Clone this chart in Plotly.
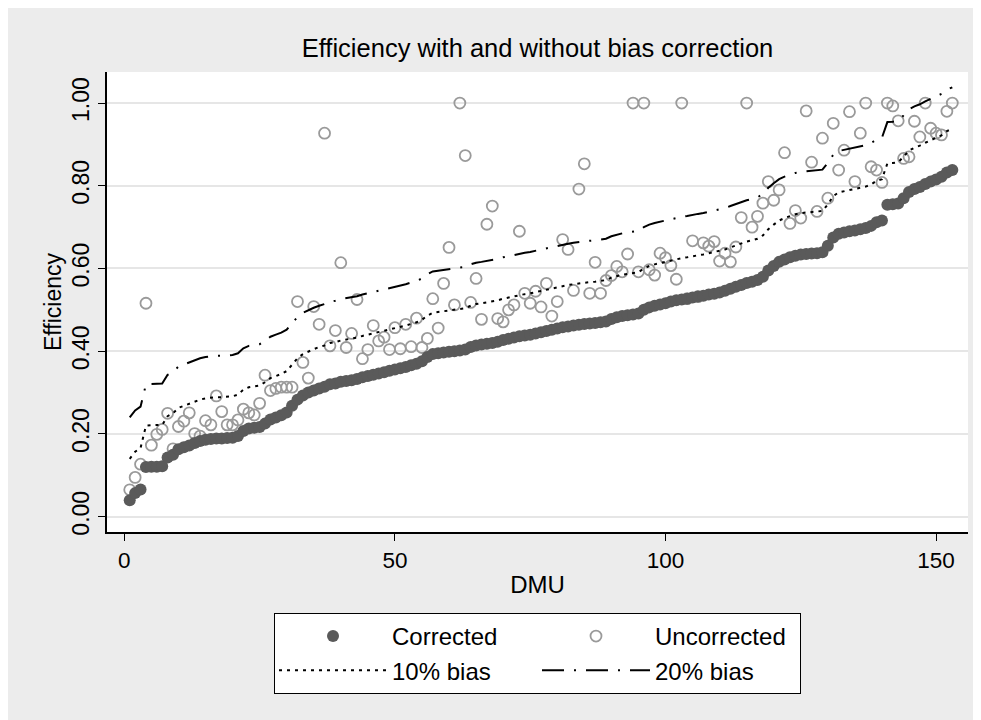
import plotly.graph_objects as go

dmu = list(range(1, 154))

corrected = [0.040,0.057,0.066,0.120,0.121,0.121,0.122,0.143,0.150,0.163,
0.168,0.172,0.178,0.183,0.186,0.188,0.189,0.189,0.190,0.191,
0.195,0.207,0.213,0.215,0.217,0.225,0.235,0.240,0.245,0.252,
0.268,0.283,0.293,0.300,0.305,0.310,0.314,0.320,0.322,0.326,
0.328,0.330,0.333,0.337,0.340,0.343,0.346,0.349,0.353,0.356,
0.359,0.362,0.366,0.370,0.376,0.386,0.393,0.395,0.397,0.399,
0.400,0.402,0.404,0.410,0.414,0.416,0.418,0.420,0.423,0.427,
0.430,0.433,0.436,0.438,0.440,0.443,0.446,0.449,0.452,0.455,
0.458,0.460,0.462,0.464,0.466,0.467,0.468,0.470,0.472,0.478,
0.482,0.485,0.487,0.489,0.491,0.500,0.506,0.510,0.513,0.516,
0.520,0.523,0.525,0.527,0.530,0.532,0.534,0.537,0.539,0.542,
0.546,0.551,0.556,0.560,0.565,0.568,0.572,0.580,0.595,0.606,
0.616,0.622,0.627,0.631,0.634,0.635,0.636,0.637,0.639,0.655,
0.675,0.684,0.687,0.690,0.692,0.695,0.698,0.703,0.712,0.716,
0.754,0.755,0.757,0.770,0.785,0.792,0.797,0.804,0.810,0.815,
0.822,0.832,0.838]

uncorrected = [0.065,0.095,0.127,0.516,0.173,0.199,0.211,0.250,0.164,0.218,
0.231,0.251,0.201,0.195,0.232,0.222,0.292,0.254,0.222,0.222,
0.234,0.260,0.251,0.246,0.274,0.342,0.305,0.310,0.313,0.313,
0.313,0.520,0.373,0.335,0.508,0.465,0.927,0.413,0.450,0.614,
0.409,0.443,0.525,0.382,0.404,0.462,0.425,0.434,0.404,0.457,
0.406,0.465,0.411,0.480,0.409,0.431,0.527,0.456,0.564,0.651,
0.512,1.000,0.873,0.518,0.576,0.477,0.707,0.751,0.479,0.471,
0.500,0.512,0.690,0.540,0.516,0.545,0.507,0.564,0.485,0.520,
0.670,0.646,0.547,0.792,0.853,0.540,0.615,0.540,0.571,0.583,
0.605,0.592,0.635,1.000,0.592,1.000,0.597,0.584,0.637,0.626,
0.607,0.574,1.000,0.527,0.667,0.532,0.662,0.654,0.665,0.618,
0.637,0.616,0.652,0.723,1.000,0.700,0.726,0.758,0.810,0.765,
0.790,0.880,0.709,0.740,0.722,0.981,0.857,0.738,0.915,0.770,
0.951,0.838,0.886,0.979,0.810,0.927,1.000,0.846,0.838,0.808,
1.000,0.993,0.957,0.866,0.870,0.956,0.918,1.000,0.939,0.927,
0.923,0.980,1.000]

bias10 = [0.140,0.157,0.166,0.220,0.221,0.221,0.222,0.243,0.250,0.263,
0.268,0.272,0.278,0.283,0.286,0.288,0.289,0.289,0.290,0.291,
0.295,0.307,0.313,0.315,0.317,0.325,0.335,0.340,0.345,0.352,
0.368,0.383,0.393,0.400,0.405,0.410,0.414,0.420,0.422,0.426,
0.428,0.430,0.433,0.437,0.440,0.443,0.446,0.449,0.453,0.456,
0.459,0.462,0.466,0.470,0.476,0.486,0.493,0.495,0.497,0.499,
0.500,0.502,0.504,0.510,0.514,0.516,0.518,0.520,0.523,0.527,
0.530,0.533,0.536,0.538,0.540,0.543,0.546,0.549,0.552,0.555,
0.558,0.560,0.562,0.564,0.566,0.567,0.568,0.570,0.572,0.578,
0.582,0.585,0.587,0.589,0.591,0.600,0.606,0.610,0.613,0.616,
0.620,0.623,0.625,0.627,0.630,0.632,0.634,0.637,0.639,0.642,
0.646,0.651,0.656,0.660,0.665,0.668,0.672,0.680,0.695,0.706,
0.716,0.722,0.727,0.731,0.734,0.735,0.736,0.737,0.739,0.755,
0.775,0.784,0.787,0.790,0.792,0.795,0.798,0.803,0.812,0.816,
0.854,0.855,0.857,0.870,0.885,0.892,0.897,0.904,0.910,0.915,
0.922,0.932,0.938]

bias20 = [0.240,0.257,0.266,0.320,0.321,0.321,0.322,0.343,0.350,0.363,
0.368,0.372,0.378,0.383,0.386,0.388,0.389,0.389,0.390,0.391,
0.395,0.407,0.413,0.415,0.417,0.425,0.435,0.440,0.445,0.452,
0.468,0.483,0.493,0.500,0.505,0.510,0.514,0.520,0.522,0.526,
0.528,0.530,0.533,0.537,0.540,0.543,0.546,0.549,0.553,0.556,
0.559,0.562,0.566,0.570,0.576,0.586,0.593,0.595,0.597,0.599,
0.600,0.602,0.604,0.610,0.614,0.616,0.618,0.620,0.623,0.627,
0.630,0.633,0.636,0.638,0.640,0.643,0.646,0.649,0.652,0.655,
0.658,0.660,0.662,0.664,0.666,0.667,0.668,0.670,0.672,0.678,
0.682,0.685,0.687,0.689,0.691,0.700,0.706,0.710,0.713,0.716,
0.720,0.723,0.725,0.727,0.730,0.732,0.734,0.737,0.739,0.742,
0.746,0.751,0.756,0.760,0.765,0.768,0.772,0.780,0.795,0.806,
0.816,0.822,0.827,0.831,0.834,0.835,0.836,0.837,0.839,0.855,
0.875,0.884,0.887,0.890,0.892,0.895,0.898,0.903,0.912,0.916,
0.954,0.955,0.957,0.970,0.985,0.992,0.997,1.004,1.010,1.015,
1.022,1.032,1.038]

y_ticks = [0.0, 0.2, 0.4, 0.6, 0.8, 1.0]
x_ticks = [0, 50, 100, 150]

FONT = "Liberation Sans, Arial, sans-serif"
W, H = 973, 712

fig = go.Figure()
fig.add_trace(go.Scatter(
    x=dmu, y=uncorrected, mode="markers", name="Uncorrected",
    legendgroup="b", legendrank=2,
    marker=dict(symbol="circle-open", size=11, color="#9a9a9a",
                line=dict(width=1.8, color="#9a9a9a")),
))
fig.add_trace(go.Scatter(
    x=dmu, y=corrected, mode="markers", name="Corrected",
    legendgroup="a", legendrank=1,
    marker=dict(symbol="circle", size=12, color="#5a5a5a"),
))
fig.add_trace(go.Scatter(
    x=dmu, y=bias10, mode="lines", name="10% bias",
    legendgroup="a", legendrank=3,
    line=dict(color="black", width=2, dash="3px,5px"),
))
fig.add_trace(go.Scatter(
    x=dmu, y=bias20, mode="lines", name="20% bias",
    legendgroup="b", legendrank=4,
    line=dict(color="black", width=2, dash="22px,10px,2px,10px"),
))

fig.update_layout(
    width=W, height=H,
    margin=dict(l=99, r=13, t=64, b=188),
    paper_bgcolor="#ececec",
    plot_bgcolor="white",
    font=dict(family=FONT, size=22, color="black"),
    title=dict(text="Efficiency with and without bias correction",
               x=0.5, xref="paper", xanchor="center",
               y=1 - 40 / H, yref="container", yanchor="middle",
               font=dict(size=25.5, color="black")),
    showlegend=True,
    legend=dict(orientation="h", traceorder="grouped",
                x=0.5, xanchor="center", y=-0.176, yanchor="top",
                bgcolor="white", bordercolor="black", borderwidth=1,
                font=dict(size=24), tracegroupgap=0, itemwidth=108,
                entrywidth=140),
)

fig.update_xaxes(
    range=[-3.2, 155.9], tickvals=x_ticks, ticks="outside", ticklen=7,
    tickcolor="black", showline=True, linecolor="black", linewidth=1.5,
    showgrid=False, zeroline=False, mirror=False,
    title=dict(text="DMU", standoff=4, font=dict(size=24)),
    tickfont=dict(size=22.5),
)
fig.update_yaxes(
    range=[-0.037, 1.075], tickvals=y_ticks, tickformat=".2f",
    tickangle=-90, ticks="outside", ticklen=7, tickcolor="black",
    showline=True, linecolor="black", linewidth=1.5,
    showgrid=True, gridcolor="#e6e6e6", gridwidth=2, zeroline=False,
    title=dict(text="Efficiency", standoff=0, font=dict(size=23)),
    tickfont=dict(size=23),
)

fig.write_html("out.html")
